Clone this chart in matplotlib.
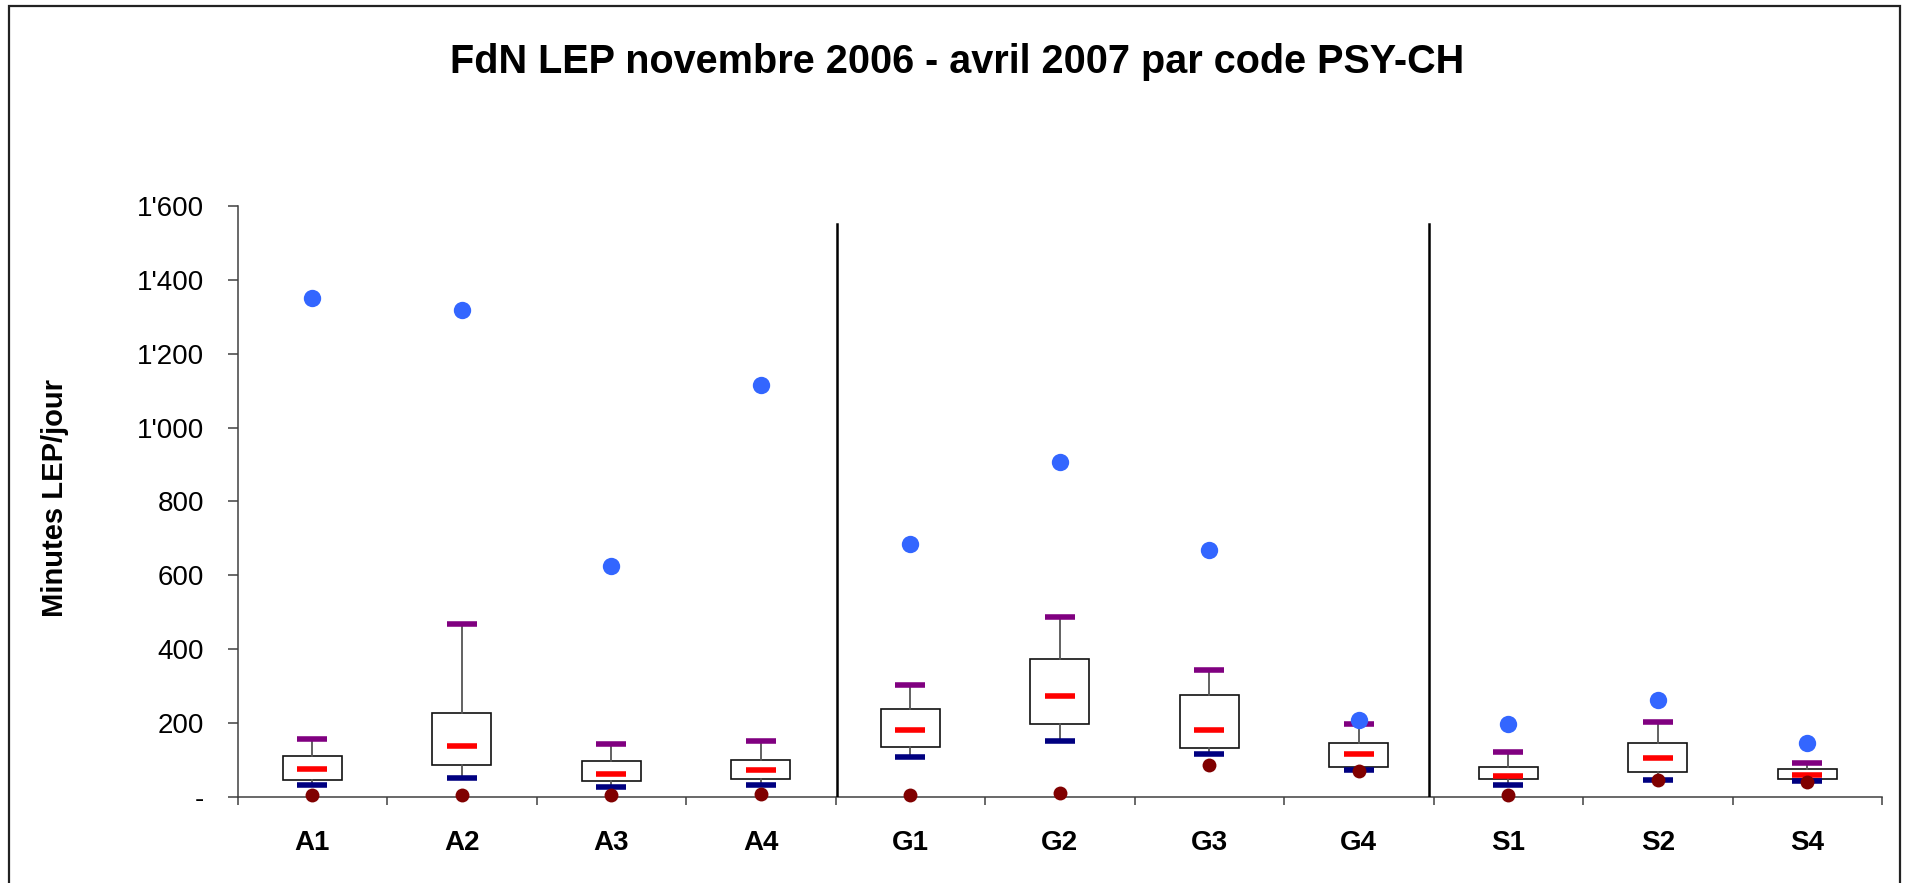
import matplotlib
matplotlib.use("Agg")
import matplotlib.pyplot as plt
from matplotlib.patches import Rectangle
from matplotlib.ticker import FixedLocator

plt.rcParams['font.family'] = ['Liberation Sans', 'DejaVu Sans']

# ---- data (minutes LEP / jour) ----
categories = ["A1", "A2", "A3", "A4", "G1", "G2", "G3", "G4", "S1", "S2", "S4"]
maximum = [1350, 1318, 626, 1114, 685, 906, 669, 208, 196, 261, 145]
p90 = [157, 468, 142, 152, 302, 488, 343, 197, 121, 201, 91]
q3 = [111, 226, 96, 99, 237, 372, 276, 146, 80, 146, 76]
median = [76, 136, 61, 72, 181, 272, 181, 116, 55, 106, 60]
q1 = [46, 87, 42, 47, 135, 197, 131, 81, 47, 66, 47]
p10 = [31, 51, 26, 33, 107, 152, 116, 71, 31, 46, 42]
minimum = [5, 5, 5, 6, 5, 10, 86, 70, 5, 45, 40]
ytick_values = [0, 200, 400, 600, 800, 1000, 1200, 1400, 1600]
ytick_labels = ["-", "200", "400", "600", "800", "1'000", "1'200", "1'400", "1'600"]
title = "FdN LEP novembre 2006 - avril 2007 par code PSY-CH"
ylabel = "Minutes LEP/jour"

W, H = 1907, 883
fig = plt.figure(figsize=(W / 100, H / 100), dpi=100)

# axes placement in pixels
left_px, right_px, top_px, bottom_px = 237.7, 1882, 206, 796.7
ax = fig.add_axes([left_px / W, 1 - bottom_px / H,
                   (right_px - left_px) / W, (bottom_px - top_px) / H])

pos = list(range(len(categories)))
stats = []
for i in pos:
    stats.append(dict(med=median[i], q1=q1[i], q3=q3[i],
                      whislo=p10[i], whishi=p90[i], fliers=[]))

ax.bxp(stats, positions=pos, widths=0.395, showcaps=False, showfliers=False,
       patch_artist=True,
       boxprops=dict(facecolor="white", edgecolor="#111111", linewidth=1.2),
       whiskerprops=dict(color="#555555", linewidth=1.3),
       medianprops=dict(linewidth=0))

ms_dash = 22
mew_dash = 4.0
ax.plot(pos, p90, linestyle="none", marker="_", markersize=ms_dash,
        markeredgewidth=mew_dash, color="#800080", zorder=4)
ax.plot(pos, p10, linestyle="none", marker="_", markersize=ms_dash,
        markeredgewidth=mew_dash, color="#000080", zorder=4)
ax.plot(pos, median, linestyle="none", marker="_", markersize=ms_dash,
        markeredgewidth=mew_dash, color="#FF0000", zorder=4)
ax.plot(pos, maximum, linestyle="none", marker="o", markersize=12.5,
        markeredgewidth=0, color="#3366FF", zorder=5)
ax.plot(pos, minimum, linestyle="none", marker="o", markersize=10,
        markeredgewidth=0, color="#800000", zorder=5, clip_on=False)

# group separators
for xs in (3.51, 7.47):
    ax.axvline(xs, ymin=0, ymax=1551 / 1600, color="black", linewidth=1.8, zorder=3)

ax.set_xlim(-0.5, len(categories) - 0.5)
ax.set_ylim(0, 1600)

ax.set_xticks(pos)
ax.set_xticklabels(categories, fontsize=20, fontweight="bold")
ax.xaxis.set_minor_locator(FixedLocator([p - 0.5 for p in range(len(categories) + 1)]))
ax.tick_params(axis="x", which="major", length=0, pad=24)
ax.tick_params(axis="x", which="minor", length=6, width=1.1, color="#404040", direction="out")

ax.set_yticks(ytick_values)
ax.set_yticklabels(ytick_labels, fontsize=20)
ax.tick_params(axis="y", length=7, width=1.1, color="#404040", direction="out", pad=17)

for s in ("top", "right"):
    ax.spines[s].set_visible(False)
for s in ("left", "bottom"):
    ax.spines[s].set_linewidth(1.1)
    ax.spines[s].set_color("#404040")

fig.text(957.6 / W, 1 - 73 / H, title, ha="center", va="baseline",
         fontsize=28.5, fontweight="bold")
fig.text(55 / W, 1 - 498 / H, ylabel, ha="center", va="center", rotation=90,
         fontsize=21, fontweight="bold")

# outer frame
fig.patches.append(Rectangle((8.5 / W, -0.02), (1900 - 8.5) / W, 1 - 5.5 / H + 0.02,
                             transform=fig.transFigure, fill=False,
                             edgecolor="#222222", linewidth=1.6))

fig.savefig("out.png", dpi=100)
